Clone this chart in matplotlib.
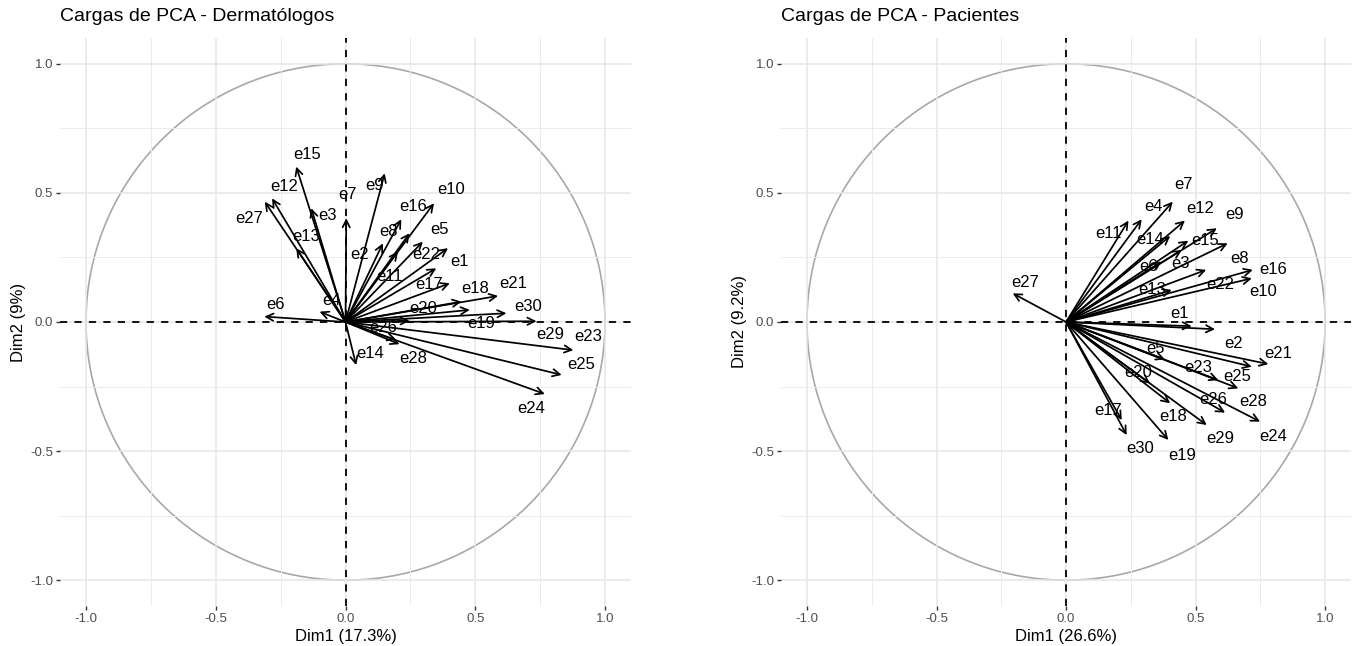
import numpy as np
import matplotlib
matplotlib.use("Agg")
import matplotlib.pyplot as plt
from matplotlib.ticker import MultipleLocator

plt.rcParams['font.family'] = ['Liberation Sans', 'DejaVu Sans']

# variables e1..e30
var_names = ["e%d" % i for i in range(1, 31)]

# loadings - Dermatologos
derm_dim1 = [0.350, 0.144, -0.132, -0.100, 0.298, -0.313, 0.003, 0.215, 0.151, 0.341,
             0.202, -0.283, -0.190, 0.041, -0.190, 0.247, 0.402, 0.447, 0.247, 0.479,
             0.588, 0.395, 0.878, 0.768, 0.833, 0.196, -0.311, 0.208, 0.736, 0.620]
derm_dim2 = [0.208, 0.305, 0.441, 0.040, 0.311, 0.021, 0.402, 0.398, 0.576, 0.460,
             0.273, 0.479, 0.286, -0.167, 0.602, 0.344, 0.150, 0.079, 0.005, 0.047,
             0.101, 0.286, -0.109, -0.279, -0.205, -0.070, 0.466, -0.086, 0.003, 0.034]

# loadings - Pacientes
pac_dim1 = [0.485, 0.575, 0.447, 0.292, 0.382, 0.369, 0.412, 0.624, 0.582, 0.717,
            0.241, 0.459, 0.408, 0.402, 0.472, 0.721, 0.215, 0.402, 0.395, 0.324,
            0.781, 0.541, 0.588, 0.749, 0.717, 0.614, -0.206, 0.665, 0.543, 0.234]
pac_dim2 = [-0.016, -0.028, 0.279, 0.398, -0.145, 0.234, 0.466, 0.305, 0.363, 0.169,
            0.393, 0.393, 0.124, 0.333, 0.315, 0.202, -0.380, -0.315, -0.457, -0.238,
            -0.163, 0.202, -0.225, -0.386, -0.173, -0.351, 0.111, -0.257, -0.399, -0.438]

derm_var = (17.3, 9)
pac_var = (26.6, 9.2)

# label offsets from arrow tip (data units), mimicking the repelled labels
derm_nudge = [(0.09, 0.026), (-0.09, -0.045), (0.064, -0.03), (0.045, 0.045), (0.065, 0.048),
              (0.043, 0.048), (0.006, 0.09), (-0.048, -0.048), (-0.039, -0.049), (0.067, 0.052),
              (-0.032, -0.097), (0.047, 0.045), (0.038, 0.045), (0.052, 0.046), (0.044, 0.045),
              (0.013, 0.103), (-0.078, -0.003), (0.051, 0.052), (0.277, -0.01), (-0.181, 0.006),
              (0.058, 0.049), (-0.084, -0.026), (0.058, 0.052), (-0.051, -0.056), (0.077, 0.042),
              (-0.052, 0.049), (-0.06, -0.064), (0.052, -0.056), (0.052, -0.053), (0.084, 0.025)]
pac_nudge = [(-0.048, 0.047), (0.071, -0.055), (-0.007, -0.054), (0.045, 0.049), (-0.038, 0.043),
             (-0.051, -0.02), (0.041, 0.065), (0.045, -0.058), (0.068, 0.052), (0.045, -0.052),
             (-0.078, -0.049), (0.058, 0.048), (-0.077, 0.0), (-0.078, -0.015), (0.065, 0.0),
             (0.079, 0.003), (-0.052, 0.039), (0.012, -0.052), (0.052, -0.059), (-0.045, 0.042),
             (0.039, 0.042), (0.054, -0.056), (-0.077, 0.049), (0.051, -0.059), (-0.058, -0.039),
             (-0.045, 0.051), (0.048, 0.041), (0.056, -0.052), (0.052, -0.052), (0.052, -0.052)]


def draw_panel(ax, dim1, dim2, nudge, var_pct, title):
    ax.set_xlim(-1.1, 1.1)
    ax.set_ylim(-1.1, 1.1)
    for s in ax.spines.values():
        s.set_visible(False)
    ax.xaxis.set_major_locator(MultipleLocator(0.5))
    ax.yaxis.set_major_locator(MultipleLocator(0.5))
    ax.xaxis.set_minor_locator(MultipleLocator(0.25))
    ax.yaxis.set_minor_locator(MultipleLocator(0.25))
    ax.grid(True, which='major', color='#E6E6E6', lw=1.1, zorder=0)
    ax.grid(True, which='minor', color='#EBEBEB', lw=0.7, zorder=0)
    ax.tick_params(which='major', length=3, width=1, color='#333333',
                   labelcolor='#4D4D4D', labelsize=9.5, pad=2)
    ax.tick_params(which='minor', length=0)
    ax.xaxis.set_major_formatter(lambda v, p: "%.1f" % v)
    ax.yaxis.set_major_formatter(lambda v, p: "%.1f" % v)

    t = np.linspace(0, 2 * np.pi, 200)
    ax.plot(np.cos(t), np.sin(t), color='#A8A8A8', lw=1.2, zorder=1)
    ax.axhline(0, color='black', lw=1.3, ls=(0, (4, 4)), zorder=2)
    ax.axvline(0, color='black', lw=1.3, ls=(0, (4, 4)), zorder=2)

    for name, x, y, (dx, dy) in zip(var_names, dim1, dim2, nudge):
        ax.annotate('', xy=(x, y), xytext=(0, 0),
                    arrowprops=dict(arrowstyle='->', color='black', lw=1.25,
                                    mutation_scale=13, shrinkA=0, shrinkB=0),
                    zorder=3)
        ax.text(x + dx, y + dy, name, ha='center', va='center', fontsize=12,
                color='black', zorder=4)

    ax.set_xlabel("Dim1 (%g%%)" % var_pct[0], fontsize=12, labelpad=3)
    ax.set_ylabel("Dim2 (%g%%)" % var_pct[1], fontsize=12, labelpad=3)
    ax.set_title(title, loc='left', fontsize=14, pad=12)


fig = plt.figure(figsize=(13.52, 6.46), dpi=100)
ax1 = fig.add_axes([0.0444, 0.0619, 0.4223, 0.8793])
ax2 = fig.add_axes([0.5777, 0.0619, 0.4216, 0.8793])

draw_panel(ax1, derm_dim1, derm_dim2, derm_nudge, derm_var, "Cargas de PCA - Dermatólogos")
draw_panel(ax2, pac_dim1, pac_dim2, pac_nudge, pac_var, "Cargas de PCA - Pacientes")

fig.savefig("out.png", dpi=100)
